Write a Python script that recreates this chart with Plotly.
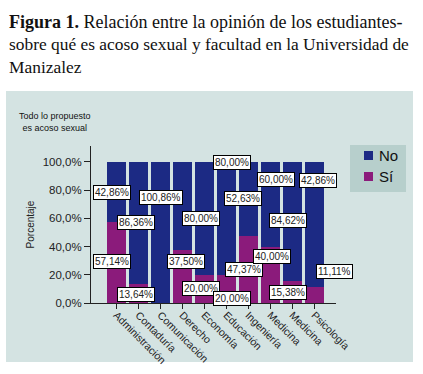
import plotly.graph_objects as go

# ---- data ----
categories = ["Administración", "Contaduría", "Comunicación", "Derecho", "Economía",
              "Educación", "Ingeniería", "Medicina", "Medicina", "Psicología"]
si_values = [57.14, 13.64, 0.0, 37.50, 20.00, 20.00, 47.37, 40.00, 15.38, 11.11]
no_values = [42.86, 86.36, 100.00, 62.50, 80.00, 80.00, 52.63, 60.00, 84.62, 88.89]
# labels as printed in the original figure
si_label_text = ["57,14%", "13,64%", None, "37,50%", "20,00%", "20,00%", "47,37%", "40,00%", "15,38%", "11,11%"]
no_label_text = ["42,86%", "86,36%", "100,86%", None, "80,00%", "80,00%", "52,63%", "60,00%", "84,62%", "42,86%"]
series_names = ["No", "Sí"]
y_tick_vals = [0, 20, 40, 60, 80, 100]
y_tick_text = ["0,0%", "20,0%", "40,0%", "60,0%", "80,0%", "100,0%"]

# ---- label placement (layout only) ----
si_label_pos = [(-0.20, 29.1), (0.89, 5.7), None, (3.16, 29.1), (3.84, 10.6), (5.25, 3.5),
                (5.80, 24.1), (7.07, 33.3), (7.80, 7.1), (9.89, 22.0)]
no_label_pos = [(-0.20, 78.0), (0.89, 57.4), (2.02, 74.5), None, (3.84, 59.6), (5.25, 99.3),
                (5.75, 73.8), (7.25, 87.9), (7.80, 58.2), (9.16, 86.5)]

NAVY = "#1c2a84"
PURPLE = "#8b1b7b"
PANEL = "#d4e3e2"
PLOTBG = "#f3f7f7"
LEGBG = "#b7cfcc"
SANS = "Liberation Sans, Arial, sans-serif"
SERIF = "Liberation Serif, Times New Roman, serif"

W, H = 423, 374
L, R, T, B = 91, 336, 146, 303  # plot area in pixels

xs = list(range(len(categories)))

fig = go.Figure()
fig.add_trace(go.Bar(x=xs, y=si_values, name="Sí", marker=dict(color=PURPLE, line=dict(width=0))))
fig.add_trace(go.Bar(x=xs, y=no_values, name="No", marker=dict(color=NAVY, line=dict(width=0))))


def px_to_paper_x(px):
    return (px - L) / (R - L)


def px_to_paper_y(py):
    return (B - py) / (B - T)


annotations = []
for txt, pos in list(zip(si_label_text, si_label_pos)) + list(zip(no_label_text, no_label_pos)):
    if txt is None or pos is None:
        continue
    annotations.append(dict(x=pos[0], y=pos[1], xref="x", yref="y", text=txt, showarrow=False,
                            font=dict(family=SANS, size=10, color="#222"),
                            bgcolor="white", bordercolor="black", borderwidth=1, borderpad=1))

# title lines (pixel y of centre, font size)
title_lines = [("<b>Figura 1.</b> Relación entre la opinión de los estudiantes-", 21.5, 18.0),
               ("sobre qué es acoso sexual y facultad en la Universidad de", 44.0, 17.4),
               ("Manizalez", 66.5, 17.4)]
for txt, py, fs in title_lines:
    annotations.append(dict(x=px_to_paper_x(7), y=px_to_paper_y(py), xref="paper", yref="paper",
                            xanchor="left", yanchor="middle", text=txt, showarrow=False,
                            font=dict(family=SERIF, size=fs, color="#111")))

annotations.append(dict(x=px_to_paper_x(55), y=px_to_paper_y(122), xref="paper", yref="paper",
                        xanchor="center", yanchor="middle", showarrow=False, align="center",
                        text="Todo lo propuesto<br>es acoso sexual",
                        font=dict(family=SANS, size=9, color="#111")))

shapes = [dict(type="rect", xref="paper", yref="paper", layer="below",
               x0=px_to_paper_x(6), x1=px_to_paper_x(413), y0=px_to_paper_y(362), y1=px_to_paper_y(91),
               fillcolor=PANEL, line=dict(width=0))]

# manual legend
shapes.append(dict(type="rect", xref="paper", yref="paper",
                   x0=px_to_paper_x(350), x1=px_to_paper_x(406), y0=px_to_paper_y(192), y1=px_to_paper_y(145),
                   fillcolor=LEGBG, line=dict(width=0)))
for name, color, cy in [(series_names[0], NAVY, 155.5), (series_names[1], PURPLE, 176.5)]:
    shapes.append(dict(type="rect", xref="paper", yref="paper",
                       x0=px_to_paper_x(364), x1=px_to_paper_x(373),
                       y0=px_to_paper_y(cy + 4.5), y1=px_to_paper_y(cy - 4.5),
                       fillcolor=color, line=dict(width=0)))
    annotations.append(dict(x=px_to_paper_x(377), y=px_to_paper_y(cy), xref="paper", yref="paper",
                            xanchor="left", yanchor="middle", text=name, showarrow=False,
                            font=dict(family=SANS, size=15, color="#111")))

fig.update_layout(
    width=W, height=H,
    margin=dict(l=L, r=W - R, t=T, b=H - B, pad=0),
    paper_bgcolor="white", plot_bgcolor=PLOTBG,
    barmode="stack", bargap=0.14,
    showlegend=False,
    xaxis=dict(range=[-1.16, 9.98], tickmode="array", tickvals=xs, ticktext=categories,
               tickangle=45, ticks="outside", ticklen=5, tickcolor="#222", showgrid=False,
               showline=True, linecolor="#222", linewidth=1, zeroline=False, automargin=False,
               ticklabelstandoff=-4,
               tickfont=dict(family=SANS, size=10.5, color="#222")),
    yaxis=dict(range=[0, 111.3], tickmode="array", tickvals=y_tick_vals, ticktext=y_tick_text,
               ticks="outside", ticklen=6, tickcolor="#222", showgrid=False,
               showline=True, linecolor="#222", linewidth=1, zeroline=False, automargin=False,
               tickfont=dict(family=SANS, size=11.5, color="#222"),
               title=dict(text="Porcentaje", font=dict(family=SANS, size=10, color="#222"), standoff=6)),
    annotations=annotations, shapes=shapes,
)

fig.write_html("out.html", config={"displayModeBar": False},
               post_script="document.body.style.margin='0';document.body.style.padding='0';")
